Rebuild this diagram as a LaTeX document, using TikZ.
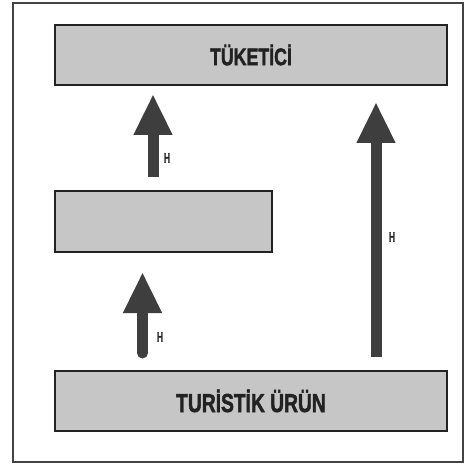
\documentclass[tikz,border=0pt]{standalone}
\usepackage{fontspec}
\setmainfont{Liberation Sans}
\newfontfamily\heavy{Liberation Sans}[UprightFont={* Bold}, FakeBold=2]
\usetikzlibrary{arrows.meta}
\definecolor{boxfill}{HTML}{C6C6C6}
\definecolor{arrowfill}{HTML}{3E3E3E}
\definecolor{inkc}{HTML}{222222}
\tikzset{
  levelbox/.style={draw=inkc, line width=1.6pt, fill=boxfill, inner sep=0pt, minimum height=60pt},
  bigarrow/.style={draw=arrowfill, line width=11pt, -{Triangle[length=41pt,width=36pt]}},
  hlabel/.style={text=inkc, font=\heavy\fontsize{14}{14}\selectfont, inner sep=0pt}
}
\begin{document}
\begin{tikzpicture}[x=1pt,y=-1pt]
\useasboundingbox (0,0) rectangle (471,465);
\fill[white] (0,0) rectangle (471,465);
\draw[inkc!85, line width=1.5pt] (13,3) rectangle (463,462);
% boxes
\node[levelbox, minimum width=392pt] (top) at (251,55) {\scalebox{0.74}[1]{\heavy\fontsize{24}{24}\selectfont\color{inkc}TÜKETİCİ}};
\node[levelbox, minimum width=217pt, minimum height=61pt] (mid) at (163.5,221.5) {};
\node[levelbox, minimum width=392pt] (bot) at (251,401) {\scalebox{0.74}[1]{\heavy\fontsize{26}{26}\selectfont\color{inkc}TURİSTİK ÜRÜN}};
% arrow end points
\coordinate (a1s) at (153,177);
\coordinate (a1e) at (153,94);
\coordinate (a2s) at (142.5,353);
\coordinate (a2e) at (142.5,272);
\coordinate (a3s) at (376,357);
\coordinate (a3e) at (376,102);
\draw[bigarrow] (a1s) -- (a1e);
\draw[bigarrow, line cap=round] (a2s) -- (a2e);
\draw[bigarrow] (a3s) -- (a3e);
% labels
\node[hlabel] (h1) at (167,158) {\scalebox{0.6}[1]{H}};
\node[hlabel] (h2) at (160,337) {\scalebox{0.6}[1]{H}};
\node[hlabel] (h3) at (392,237) {\scalebox{0.6}[1]{H}};
\end{tikzpicture}
\end{document}
